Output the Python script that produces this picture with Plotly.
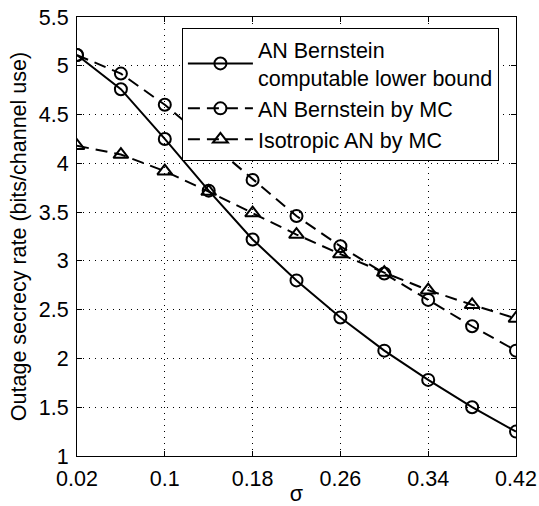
import plotly.graph_objects as go

sigma = [0.02, 0.06, 0.10, 0.14, 0.18, 0.22, 0.26, 0.30, 0.34, 0.38, 0.42]
lower_bound = [5.11, 4.76, 4.25, 3.72, 3.22, 2.80, 2.42, 2.08, 1.78, 1.50, 1.25]
bernstein_mc = [5.11, 4.92, 4.60, 4.22, 3.83, 3.46, 3.15, 2.87, 2.60, 2.33, 2.08]
isotropic_mc = [4.18, 4.09, 3.92, 3.71, 3.49, 3.27, 3.07, 2.88, 2.70, 2.55, 2.41]

x_ticks = [0.02, 0.1, 0.18, 0.26, 0.34, 0.42]
x_tick_labels = ["0.02", "0.1", "0.18", "0.26", "0.34", "0.42"]
y_ticks = [1, 1.5, 2, 2.5, 3, 3.5, 4, 4.5, 5, 5.5]
y_tick_labels = ["1", "1.5", "2", "2.5", "3", "3.5", "4", "4.5", "5", "5.5"]

names = ["AN Bernstein<br>computable lower bound", "AN Bernstein by MC", "Isotropic AN by MC"]

font = dict(family="Liberation Sans, Arial, sans-serif", size=21.5, color="black")

fig = go.Figure()
fig.add_trace(go.Scatter(
    x=sigma, y=lower_bound, name=names[0], mode="lines+markers",
    line=dict(color="black", width=2),
    marker=dict(symbol="circle-open", size=12, color="black", line=dict(width=2)),
))
fig.add_trace(go.Scatter(
    x=sigma, y=bernstein_mc, name=names[1], mode="lines+markers",
    line=dict(color="black", width=2, dash="12px,7px"),
    marker=dict(symbol="circle-open", size=12, color="black", line=dict(width=2)),
))
fig.add_trace(go.Scatter(
    x=sigma, y=isotropic_mc, name=names[2], mode="lines+markers",
    line=dict(color="black", width=2, dash="12px,7px"),
    marker=dict(symbol="triangle-up-open", size=13, color="black", line=dict(width=2)),
))

axis_common = dict(
    showline=True, linecolor="black", linewidth=1, mirror="ticks",
    ticks="inside", ticklen=5, tickcolor="black",
    showgrid=True, gridcolor="black", gridwidth=1, griddash="1px,5px",
    zeroline=False, tickfont=font, automargin=False,
)

fig.update_layout(
    width=539, height=506,
    margin=dict(l=77, r=23, t=17, b=50),
    paper_bgcolor="white", plot_bgcolor="white",
    font=font,
    showlegend=True,
    legend=dict(
        x=0.239, y=0.975, xanchor="left", yanchor="top",
        bgcolor="white", bordercolor="black", borderwidth=1,
        font=font,
        tracegroupgap=0, itemwidth=65,
    ),
    xaxis=dict(
        range=[0.02, 0.42], tickvals=x_ticks, ticktext=x_tick_labels,
        title=dict(text="σ", font=font, standoff=3),
        ticklabelstandoff=3,
        **axis_common,
    ),
    yaxis=dict(
        range=[1, 5.5], tickvals=y_ticks, ticktext=y_tick_labels,
        title=dict(text="Outage secrecy rate (bits/channel use)", font=font, standoff=6),
        ticklabelstandoff=3,
        **axis_common,
    ),
)

fig.write_html(
    "out.html",
    config={"displayModeBar": False},
    post_script="document.body.style.margin='0';document.body.style.overflow='hidden';",
)
